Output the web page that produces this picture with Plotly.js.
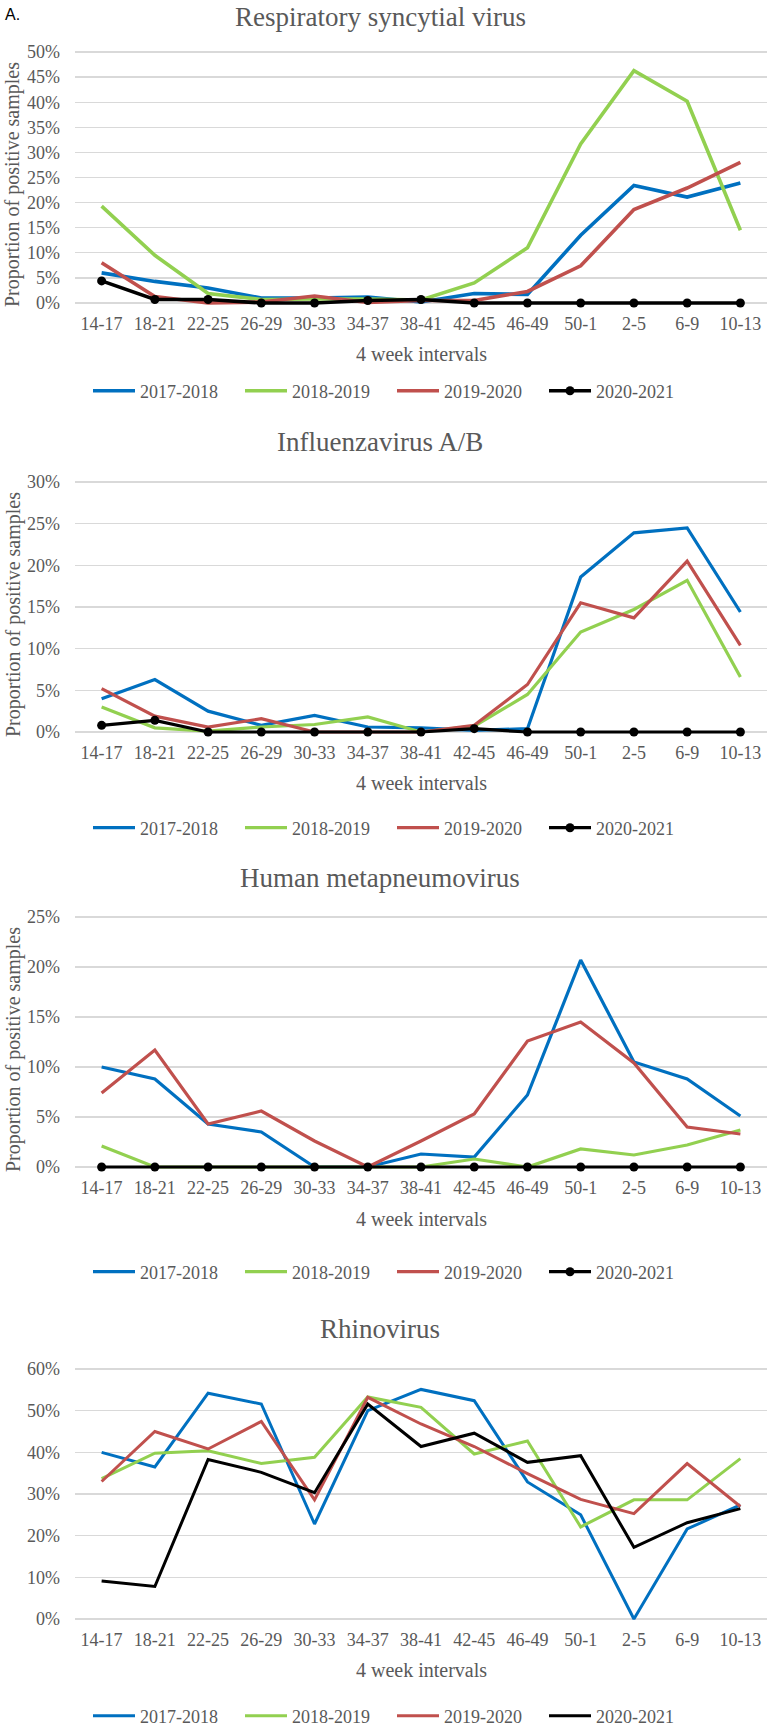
<!DOCTYPE html>
<html><head><meta charset="utf-8">
<script src="https://cdn.plot.ly/plotly-3.0.1.min.js"></script>
<style>html,body{margin:0;padding:0;background:#fff}#chart{width:768px;height:1729px}</style>
</head><body><div id="chart"></div>
<script>
// ---------- DATA ----------
const categories = ['14-17','18-21','22-25','26-29','30-33','34-37','38-41','42-45','46-49','50-1','2-5','6-9','10-13'];
const seasons = ['2017-2018','2018-2019','2019-2020','2020-2021'];
const panelTitles = ['Respiratory syncytial virus','Influenzavirus A/B','Human metapneumovirus','Rhinovirus'];

const rsv2017 = [0.060,0.043,0.030,0.010,0.010,0.012,0.002,0.019,0.017,0.135,0.234,0.211,0.239];
const rsv2018 = [0.193,0.095,0.019,0.007,0.008,0.008,0.006,0.040,0.110,0.317,0.463,0.402,0.145];
const rsv2019 = [0.080,0.013,0.000,0.002,0.014,0.001,0.005,0.005,0.023,0.074,0.186,0.229,0.280];
const rsv2020 = [0.044,0.007,0.007,0.000,0.000,0.005,0.007,0.000,0.000,0.000,0.000,0.000,0.000];

const flu2017 = [0.040,0.063,0.025,0.008,0.020,0.006,0.005,0.002,0.004,0.186,0.239,0.245,0.144];
const flu2018 = [0.030,0.005,0.001,0.006,0.009,0.018,0.000,0.007,0.045,0.120,0.147,0.182,0.066];
const flu2019 = [0.052,0.019,0.006,0.016,0.000,0.000,0.000,0.008,0.057,0.155,0.137,0.205,0.104];
const flu2020 = [0.008,0.014,0.000,0.000,0.000,0.000,0.000,0.004,0.000,0.000,0.000,0.000,0.000];

const hmpv2017 = [0.100,0.088,0.043,0.035,0.000,0.000,0.013,0.010,0.072,0.207,0.105,0.088,0.051];
const hmpv2018 = [0.021,0.000,0.000,0.000,0.000,0.000,0.000,0.008,0.000,0.018,0.012,0.022,0.037];
const hmpv2019 = [0.074,0.117,0.043,0.056,0.026,0.000,0.026,0.053,0.126,0.145,0.104,0.040,0.033];
const hmpv2020 = [0.000,0.000,0.000,0.000,0.000,0.000,0.000,0.000,0.000,0.000,0.000,0.000,0.000];

const rhino2017 = [0.400,0.365,0.542,0.516,0.228,0.500,0.551,0.524,0.329,0.250,0.000,0.216,0.274];
const rhino2018 = [0.337,0.398,0.404,0.373,0.388,0.533,0.508,0.396,0.427,0.221,0.286,0.286,0.385];
const rhino2019 = [0.330,0.450,0.408,0.474,0.286,0.532,0.468,0.414,0.349,0.287,0.253,0.373,0.270];
const rhino2020 = [0.091,0.078,0.383,0.352,0.303,0.516,0.414,0.446,0.376,0.392,0.172,0.231,0.265];

const yMax = [0.50, 0.30, 0.25, 0.60];
const yStep = [0.05, 0.05, 0.05, 0.10];
const xAxisTitle = '4 week intervals';
const yAxisTitle = 'Proportion of positive samples';

// ---------- STYLE / LAYOUT ----------
const W = 768, H = 1729;
const colors = ['#0070C0', '#92D050', '#C0504D', '#000000'];
const gray = '#595959';
const serif = 'Liberation Serif, Times New Roman, serif';
const plotL = 75, plotR = 767;

const seriesByPanel = [
  [rsv2017, rsv2018, rsv2019, rsv2020],
  [flu2017, flu2018, flu2019, flu2020],
  [hmpv2017, hmpv2018, hmpv2019, hmpv2020],
  [rhino2017, rhino2018, rhino2019, rhino2020]
];
const geom = [
  {top: 52,   zero: 303,  title: 17,   axTitle: 354,  yTitle: 185,  legend: 391,  lw: 3.6, markers: true,  showY: true},
  {top: 482,  zero: 732,  title: 442,  axTitle: 783,  yTitle: 615,  legend: 828,  lw: 3.2, markers: true,  showY: true},
  {top: 917,  zero: 1167, title: 878,  axTitle: 1219, yTitle: 1050, legend: 1272, lw: 3.2, markers: true,  showY: true},
  {top: 1369, zero: 1619, title: 1329, axTitle: 1670, yTitle: null, legend: 1716, lw: 3.0, markers: false, showY: false}
];
const py = v => 1 - v / H;

const data = [];
const layout = {
  width: W, height: H,
  margin: {l: 0, r: 0, t: 0, b: 0, autoexpand: false},
  paper_bgcolor: '#fff', plot_bgcolor: '#fff',
  showlegend: true,
  annotations: [],
  font: {family: serif, color: gray}
};

geom.forEach((g, i) => {
  const n = i === 0 ? '' : String(i + 1);
  const pad = 4;
  const pxPerUnit = (g.zero - g.top) / yMax[i];
  layout['yaxis' + n] = {
    domain: [py(g.zero + pad), py(g.top - 2)],
    range: [-pad / pxPerUnit, yMax[i] + 2 / pxPerUnit],
    anchor: 'x' + n,
    tickmode: 'linear', tick0: 0, dtick: yStep[i],
    tickformat: '.0%',
    showgrid: true, gridcolor: '#D9D9D9', gridwidth: 1.3,
    zeroline: false, showline: false, ticks: '',
    ticklabelstandoff: 14,
    tickfont: {family: serif, size: 18, color: gray},
    fixedrange: true
  };
  layout['xaxis' + n] = {
    domain: [plotL / W, plotR / W],
    range: [-0.5, 12.5],
    type: 'category',
    anchor: 'y' + n,
    showgrid: false, zeroline: false, showline: false, ticks: '',
    ticklabelstandoff: 4,
    tickfont: {family: serif, size: 18, color: gray},
    fixedrange: true
  };
  const legId = 'legend' + n;
  layout[legId] = {
    orientation: 'h',
    x: 88 / W, xanchor: 'left',
    y: py(g.legend), yanchor: 'middle',
    font: {family: serif, size: 18, color: gray},
    itemwidth: 42,
    entrywidth: 95, entrywidthmode: 'pixels',
    bgcolor: 'rgba(0,0,0,0)', borderwidth: 0,
    traceorder: 'normal'
  };
  seriesByPanel[i].forEach((vals, k) => {
    const isBlack = k === 3;
    data.push({
      type: 'scatter',
      x: categories, y: vals,
      xaxis: 'x' + n, yaxis: 'y' + n,
      name: seasons[k],
      legend: legId,
      mode: (isBlack && g.markers) ? 'lines+markers' : 'lines',
      line: {color: colors[k], width: g.lw},
      marker: {color: colors[k], size: 9},
      cliponaxis: false,
      hoverinfo: 'skip'
    });
  });
  layout.annotations.push({
    xref: 'paper', yref: 'paper', x: 380 / W, y: py(g.title),
    xanchor: 'center', yanchor: 'middle', showarrow: false, borderpad: 0,
    text: panelTitles[i], font: {family: serif, size: 27, color: gray}
  });
  layout.annotations.push({
    xref: 'paper', yref: 'paper', x: ((plotL + plotR) / 2) / W, y: py(g.axTitle),
    xanchor: 'center', yanchor: 'middle', showarrow: false,
    text: xAxisTitle, font: {family: serif, size: 20, color: gray}
  });
  if (g.showY) {
    layout.annotations.push({
      xref: 'paper', yref: 'paper', x: 13 / W, y: py(g.yTitle),
      xanchor: 'center', yanchor: 'middle', showarrow: false, textangle: -90, borderpad: 0,
      text: yAxisTitle, font: {family: serif, size: 20, color: gray}
    });
  }
});
layout.annotations.push({
  xref: 'paper', yref: 'paper', x: 3 / W, y: py(15),
  xanchor: 'left', yanchor: 'middle', showarrow: false,
  text: 'A.', font: {family: 'Liberation Sans, Arial, sans-serif', size: 16, color: '#000'}
});

Plotly.newPlot('chart', data, layout, {displayModeBar: false, staticPlot: true});
</script>
</body></html>
